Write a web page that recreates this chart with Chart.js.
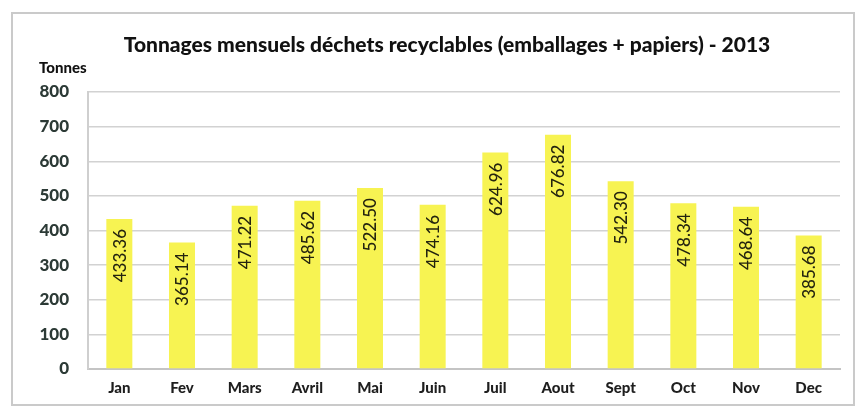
<!DOCTYPE html>
<html>
<head>
<meta charset="utf-8">
<script src="https://cdn.jsdelivr.net/npm/chart.js@4"></script>
<style>
  html, body { margin: 0; padding: 0; background: #fff; }
  #wrap { width: 860px; height: 407px; }
</style>
</head>
<body>
<div id="wrap"><canvas id="graphTonnages"></canvas></div>
<script>
var mois = ['Jan', 'Fev', 'Mars', 'Avril', 'Mai', 'Juin', 'Juil', 'Aout', 'Sept', 'Oct', 'Nov', 'Dec'];
var tonnages = [433.36, 365.14, 471.22, 485.62, 522.50, 474.16, 624.96, 676.82, 542.30, 478.34, 468.64, 385.68];
var titre = 'Tonnages mensuels déchets recyclables (emballages + papiers) - 2013';
var uniteAxe = 'Tonnes';

var police = 'Lato, "Open Sans", sans-serif';

// cadre, titre et etiquettes des barres
var decor = {
    id: 'decor',
    beforeDraw: function (chart) {
        var ctx = chart.ctx;
        ctx.save();
        ctx.strokeStyle = '#cacaca';
        ctx.lineWidth = 2;
        ctx.strokeRect(12, 13, 842, 392);
        ctx.restore();
    },
    afterDatasetsDraw: function (chart) {
        var ctx = chart.ctx;
        ctx.save();
        ctx.fillStyle = '#111';
        ctx.font = '900 21px ' + police;
        ctx.textAlign = 'center';
        ctx.textBaseline = 'middle';
        ctx.fillText(titre, 447, 45);
        ctx.font = '900 15px ' + police;
        ctx.textAlign = 'left';
        ctx.fillText(uniteAxe, 39, 68);

        var meta = chart.getDatasetMeta(0);
        ctx.font = '500 17px ' + police;
        ctx.fillStyle = '#24240f';
        ctx.textAlign = 'right';
        meta.data.forEach(function (bar, i) {
            ctx.save();
            ctx.translate(bar.x, bar.y + 10);
            ctx.rotate(-Math.PI / 2);
            ctx.fillText(tonnages[i].toFixed(2), 0, 1);
            ctx.restore();
        });
        ctx.restore();
    }
};

new Chart(document.getElementById('graphTonnages').getContext('2d'), {
    type: 'bar',
    data: {
        labels: mois,
        datasets: [{
            label: uniteAxe,
            data: tonnages,
            backgroundColor: '#f7f352',
            barPercentage: 0.83,
            categoryPercentage: 0.5
        }]
    },
    options: {
        responsive: true,
        maintainAspectRatio: false,
        animation: false,
        layout: { padding: { left: 0, right: 20, top: 92, bottom: 0 } },
        plugins: {
            legend: { display: false },
            tooltip: { enabled: false }
        },
        scales: {
            x: {
                grid: { display: false, drawTicks: false },
                border: { color: '#c4c4c4', width: 2 },
                ticks: {
                    color: '#1e1e1e',
                    font: { family: police, weight: '900', size: 15 },
                    padding: 10,
                    maxRotation: 0
                },
                afterFit: function (scale) { scale.height = 38; }
            },
            y: {
                min: 0,
                max: 800,
                ticks: {
                    stepSize: 100,
                    color: '#2c3a36',
                    font: { family: police, weight: '900', size: 17 },
                    padding: 19
                },
                grid: { color: '#d2d2d2', lineWidth: 1.5, drawTicks: false },
                border: { color: '#cfcfcf', width: 2 },
                afterFit: function (scale) { scale.width = 88; }
            }
        }
    },
    plugins: [decor]
});
</script>
</body>
</html>
